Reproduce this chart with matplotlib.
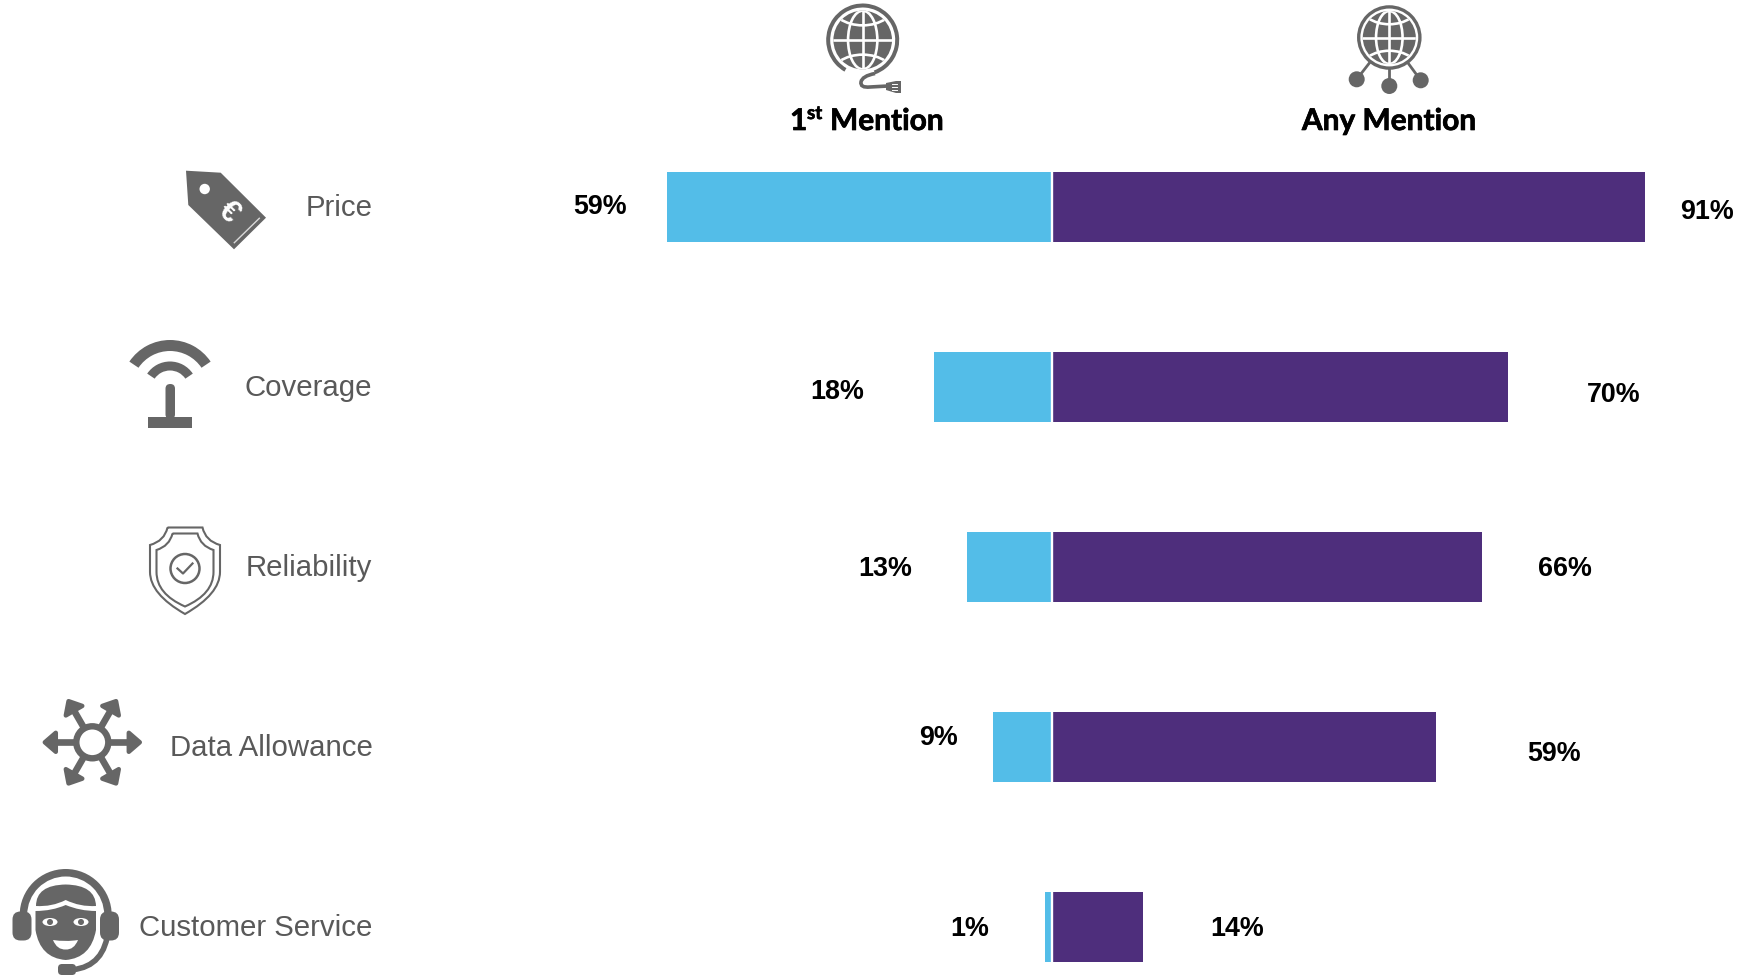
import numpy as np
import matplotlib
matplotlib.use('Agg')
import matplotlib.pyplot as plt
import matplotlib.patheffects as pe
from matplotlib.patches import Circle, Ellipse, Polygon, Wedge, PathPatch, FancyBboxPatch
from matplotlib.path import Path

categories = ['Price', 'Coverage', 'Reliability', 'Data Allowance', 'Customer Service']
first_mention = [59, 18, 13, 9, 1]
any_mention = [91, 70, 66, 59, 14]
first_labels = ['59%', '18%', '13%', '9%', '1%']
any_labels = ['91%', '70%', '66%', '59%', '14%']

BLUE = '#53bde8'
PURPLE = '#4e2e7c'
GREY = '#666666'
LABEL_GREY = '#595959'

W, H = 1741, 976
fig = plt.figure(figsize=(W / 100, H / 100), dpi=100)

# bars: x in percent, y in category index
ax = fig.add_axes([0, 0, 1, 1])
PX_PER_PCT = 6.52
ZERO_PX = 1051.5
ROW0, ROW_STEP = 207, 179.9
ax.set_xlim(-ZERO_PX / PX_PER_PCT, (W - ZERO_PX) / PX_PER_PCT)
ax.set_ylim((H - ROW0) / ROW_STEP, -ROW0 / ROW_STEP)
ax.axis('off')
y = np.arange(len(categories))
ax.barh(y, [-v for v in first_mention], height=0.39, color=BLUE)
ax.barh(y, any_mention, height=0.39, color=PURPLE)
ax.axvline(0, color='white', lw=1.7)

# everything else sits on a pixel overlay
ov = fig.add_axes([0, 0, 1, 1], facecolor='none')
ov.set_xlim(0, W)
ov.set_ylim(H, 0)
ov.axis('off')

# value labels were placed by hand in the original, so not tied to bar ends
first_xy = [(600.5, 207), (837.5, 392), (885, 569), (938.5, 738), (969.5, 929)]
any_xy = [(1707, 212), (1614, 395), (1565, 569), (1554, 754), (1237.5, 929)]
for (px, py), s in zip(first_xy, first_labels):
    ov.text(px, py, s, ha='center', va='center', fontsize=19.4, fontweight='bold',
            family='Liberation Sans', color='black')
for (px, py), s in zip(any_xy, any_labels):
    ov.text(px, py, s, ha='center', va='center', fontsize=19.4, fontweight='bold',
            family='Liberation Sans', color='black')

label_y = [208, 388, 568, 748, 928]
for name, py in zip(categories, label_y):
    ov.text(372.5, py, name, ha='right', va='center', fontsize=21.2,
            family='Liberation Sans', color=LABEL_GREY)

# headers
HEAD = dict(family='Lato', fontweight='bold', color='black',
            path_effects=[pe.withStroke(linewidth=0.5, foreground='black')])
ov.text(790, 130, '1', ha='left', va='baseline', fontsize=21.5, **HEAD)
ov.text(807, 119, 'st', ha='left', va='baseline', fontsize=13.5, **HEAD)
ov.text(830, 130, 'Mention', ha='left', va='baseline', fontsize=21.5, **HEAD)
ov.text(1389, 130, 'Any Mention', ha='center', va='baseline', fontsize=21.5, **HEAD)


def curve(verts, codes, **kw):
    p = PathPatch(Path(verts, codes), **kw)
    ov.add_patch(p)
    return p


def globe(cx, cy, r):
    disc = Circle((cx, cy), r, fc=GREY, ec='none')
    ov.add_patch(disc)
    grid = dict(color='white', lw=1.9)
    l, = ov.plot([cx, cx], [cy - r, cy + r], **grid)
    l.set_clip_path(disc)
    l, = ov.plot([cx - r, cx + r], [cy, cy], **grid)
    l.set_clip_path(disc)
    for sign in [-1, 1]:
        arc = Ellipse((cx, cy + sign * 1.25 * r), 2.2 * r, 1.5 * r, fc='none', ec='white', lw=1.9)
        ov.add_patch(arc)
        arc.set_clip_path(disc)
    e = Ellipse((cx, cy), 1.0 * r, 2 * r, fc='none', ec='white', lw=1.9)
    ov.add_patch(e)
    e.set_clip_path(disc)


M, C3, C4, L = Path.MOVETO, Path.CURVE3, Path.CURVE4, Path.LINETO

# 1st mention globe with cable
cx, cy = 862.7, 40
globe(cx, cy, 29.3)
ov.add_patch(Wedge((cx, cy), 36.5, 120, 360 + 70, width=4, fc=GREY, ec='none'))
curve([(875, 73.5), (862, 76), (861, 82), (860, 88), (870, 87), (888, 86)],
      [M, C3, C3, C3, C3, L], fc='none', ec=GREY, lw=2.6)
ov.add_patch(Polygon([(886, 83), (896, 81), (901, 81), (901, 93), (896, 93), (886, 90)], fc=GREY, ec='none'))
for ly in [84, 87, 90]:
    ov.plot([892, 897], [ly, ly], color='white', lw=0.7)

# any mention globe with nodes
cx, cy = 1389.3, 37.5
globe(cx, cy, 26.5)
ov.add_patch(Circle((cx, cy), 30.6, fc='none', ec=GREY, lw=2.4))
for nx, ny in [(1356.7, 79.3), (1389.3, 86), (1420.7, 80.3)]:
    a = np.arctan2(ny - cy, nx - cx)
    ov.plot([cx + 31 * np.cos(a), nx], [cy + 31 * np.sin(a), ny], color=GREY, lw=2)
    ov.add_patch(Circle((nx, ny), 8, fc=GREY, ec='none'))

# price tag
ov.add_patch(Polygon([(186, 170.7), (220.7, 172.7), (266, 217.7), (234, 249.3), (188.3, 205)],
                     fc=GREY, ec='none'))
ov.add_patch(Circle((204.7, 189), 5.2, fc='white', ec='none'))
ov.plot([234.3, 259.3], [242.7, 218.3], color='#d9d9d9', lw=1)
ov.text(228.5, 212, '€', ha='center', va='center', color='white', fontsize=22, fontweight='bold',
        rotation=-45, family='Liberation Sans')

# antenna
acx, acy = 170, 389
ov.add_patch(Wedge((acx, acy), 49, 214, 326, width=11, fc=GREY, ec='none'))
ov.add_patch(Wedge((acx, acy), 27.5, 214, 326, width=9, fc=GREY, ec='none'))
ov.add_patch(FancyBboxPatch((165.5, 384), 9.5, 35, boxstyle='round,pad=0,rounding_size=4.7', fc=GREY, ec='none'))
ov.add_patch(Polygon([(148, 417), (192, 417), (192, 428), (148, 428)], fc=GREY, ec='none'))


# shield, half outlines mirrored about x = 185
def shield(half_w, top_w, top, shoulder, side, tip, lw):
    xc = 185
    v = [(xc - top_w, top), (xc + top_w, top),
         (xc + top_w + 3, shoulder - 4), (xc + half_w, shoulder),
         (xc + half_w, side),
         (xc + half_w, side + 22), (xc, tip),
         (xc - half_w, side + 22), (xc - half_w, side),
         (xc - half_w, shoulder),
         (xc - top_w - 3, shoulder - 4), (xc - top_w, top)]
    c = [M, L, C3, C3, L, C3, C3, C3, C3, L, C3, C3]
    curve(v, c, fc='none', ec=GREY, lw=lw)


shield(35, 17.5, 527.5, 545, 572, 614, 1.5)
shield(28.5, 12.5, 533.5, 550, 572, 606.5, 1.5)
ov.add_patch(Circle((185, 568.5), 14.5, fc='none', ec=GREY, lw=1.8))
ov.plot([177.5, 183, 192.5], [568.5, 573.5, 563.5], color=GREY, lw=1.6)

# data allowance hub
hx, hy = 92.3, 742.3
for deg in range(0, 360, 60):
    a = np.radians(deg)
    ux, uy = np.cos(a), np.sin(a)
    ov.plot([hx + 16 * ux, hx + 42 * ux], [hy + 16 * uy, hy + 42 * uy], color=GREY, lw=4.8,
            solid_capstyle='butt')
    base = (hx + 36.5 * ux, hy + 36.5 * uy)
    ov.add_patch(Polygon([(hx + 47.5 * ux, hy + 47.5 * uy),
                          (base[0] - 9.5 * uy, base[1] + 9.5 * ux),
                          (base[0] + 9.5 * uy, base[1] - 9.5 * ux)],
                         fc=GREY, ec=GREY, lw=3.2, joinstyle='round'))
ov.add_patch(Circle((hx, hy), 16, fc='white', ec=GREY, lw=4.6))

# headset face
ov.add_patch(Wedge((65.7, 915), 46, 180, 360, width=7.5, fc=GREY, ec='none'))
for x0 in [12.5, 100]:
    ov.add_patch(FancyBboxPatch((x0, 911.5), 19, 29, boxstyle='round,pad=0,rounding_size=8', fc=GREY, ec='none'))
# hair
curve([(36, 906), (36, 885), (65.7, 884.5), (95.5, 885), (96, 906), (80, 907), (65.7, 900), (52, 907), (36, 906)],
      [M, C3, C3, C3, C3, C3, C3, C3, C3], fc=GREY, ec='none')
# face
curve([(35.5, 911), (52, 911), (65.7, 905), (80, 911), (96, 911), (96, 930), (91, 958), (65.7, 960),
       (40, 958), (35.5, 930), (35.5, 911)],
      [M, C3, C3, C3, C3, L, C3, C3, C3, C3, L], fc=GREY, ec='none')
for ex in [50, 81]:
    ov.add_patch(Ellipse((ex, 922), 15, 8, fc='white', ec='none'))
    ov.add_patch(Circle((ex, 922), 3, fc=GREY, ec='none'))
curve([(53, 940), (65.7, 942), (78, 940), (74, 950), (65.7, 949.5), (57, 950), (53, 940)],
      [M, C3, C3, C3, C3, C3, C3], fc='white', ec='none')
# mic boom
curve([(107, 938), (100, 971), (64, 970)], [M, C3, C3], fc='none', ec=GREY, lw=4)
ov.add_patch(FancyBboxPatch((58, 964), 18, 11, boxstyle='round,pad=0,rounding_size=4', fc=GREY, ec='none'))

fig.savefig('out.png', dpi=100, facecolor='white')
